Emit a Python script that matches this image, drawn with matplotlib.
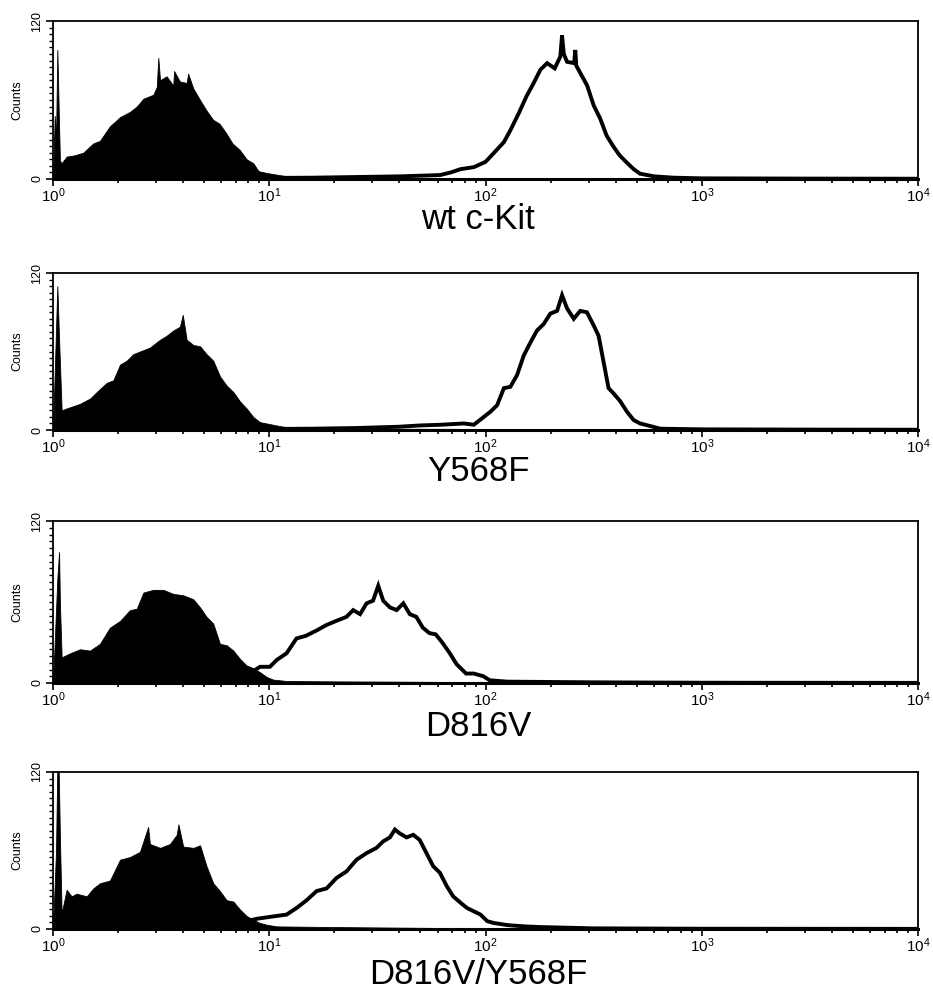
import numpy as np
import matplotlib
matplotlib.use("Agg")
import matplotlib.pyplot as plt
from matplotlib.ticker import LogLocator, FixedLocator, MultipleLocator

plt.rcParams['font.family'] = ['Liberation Sans', 'DejaVu Sans']
plt.rcParams['mathtext.fontset'] = 'custom'
plt.rcParams['mathtext.rm'] = 'Liberation Sans'
plt.rcParams['mathtext.default'] = 'regular'

# positions are log10 of fluorescence, values are counts
labels = ["wt c-Kit", "Y568F", "D816V", "D816V/Y568F"]

# --- wt c-Kit
iso_x_wt = [0.0, 0.008, 0.014, 0.02, 0.026, 0.032, 0.04, 0.063, 0.1, 0.14, 0.186, 0.217, 0.263, 0.31,
            0.356, 0.387, 0.418, 0.464, 0.48, 0.487, 0.495, 0.525, 0.556, 0.56, 0.587, 0.618, 0.625,
            0.648, 0.68, 0.71, 0.74, 0.77, 0.80, 0.83, 0.864, 0.895, 0.926, 0.95, 0.99, 1.065, 1.14,
            1.3, 1.6, 1.9, 2.2, 2.6, 3.0, 4.0]
iso_y_wt = [0, 48, 30, 98, 55, 14, 12, 17, 18, 20, 27, 29, 40, 47, 51, 55, 61, 64, 70, 92, 75, 78, 71,
            82, 74, 73, 80, 69, 60, 52, 45, 42, 35, 27, 22, 15, 12, 6, 4.5, 2.5, 1.5, 1, 0.8, 0.6, 0.4,
            0.3, 0.2, 0]
kit_x_wt = [0.9, 1.0, 1.2, 1.4, 1.6, 1.7, 1.79, 1.84, 1.885, 1.946, 2.0, 2.04, 2.085, 2.115, 2.154,
            2.19, 2.22, 2.254, 2.285, 2.32, 2.346, 2.354, 2.362, 2.377, 2.41, 2.415, 2.42, 2.44, 2.47,
            2.5, 2.53, 2.56, 2.59, 2.62, 2.65, 2.685, 2.715, 2.78, 2.87, 3.0, 3.5, 4.0]
kit_y_wt = [0.5, 0.8, 1.0, 1.5, 2.0, 2.5, 3, 5, 7.5, 9, 13, 20, 28, 37, 50, 63, 72, 83, 88, 84, 93,
            109, 95, 89, 88, 98, 86, 80, 71, 56, 46, 33, 25, 18, 13, 7.5, 4, 2, 1, 0.5, 0.3, 0.2]

# --- Y568F
iso_x_y568f = [0.0, 0.01, 0.02, 0.029, 0.04, 0.063, 0.125, 0.171, 0.202, 0.248, 0.279, 0.31, 0.341,
               0.371, 0.402, 0.448, 0.495, 0.525, 0.556, 0.587, 0.6, 0.618, 0.649, 0.68, 0.71, 0.741,
               0.772, 0.803, 0.834, 0.864, 0.895, 0.926, 0.957, 1.003, 1.065, 1.2, 1.5, 2.0, 2.5,
               3.0, 4.0]
iso_y_y568f = [0, 55, 110, 65, 15, 16.5, 20, 24, 29, 36, 38, 50, 53, 58, 60, 63, 69, 72, 76, 79, 88,
               69, 65, 64, 58, 53, 41, 34, 29, 22, 16.5, 10, 6, 4.5, 2.5, 1.2, 1, 0.8, 0.4, 0.2, 0]
kit_x_y568f = [0.9, 1.0, 1.2, 1.4, 1.6, 1.7, 1.792, 1.9, 1.946, 1.977, 2.023, 2.054, 2.085, 2.115,
               2.146, 2.177, 2.208, 2.238, 2.269, 2.3, 2.331, 2.354, 2.377, 2.408, 2.438, 2.469, 2.5,
               2.523, 2.546, 2.569, 2.592, 2.623, 2.654, 2.685, 2.715, 2.762, 2.808, 3.0, 3.5, 4.0]
kit_y_y568f = [0.5, 0.8, 1.0, 1.5, 2.5, 3.5, 4, 5, 4, 8, 14, 19, 32, 33, 42, 57, 67, 76, 81, 89, 91,
               103, 93, 85, 91, 90, 80, 72, 52, 32, 28, 22, 14, 7.6, 5, 3, 1, 0.5, 0.3, 0.2]

# --- D816V
iso_x_d816v = [0.0, 0.02, 0.028, 0.032, 0.04, 0.079, 0.125, 0.171, 0.217, 0.263, 0.31, 0.356, 0.387,
               0.418, 0.464, 0.51, 0.556, 0.602, 0.649, 0.68, 0.71, 0.741, 0.772, 0.803, 0.834, 0.864,
               0.895, 0.926, 0.957, 0.988, 1.018, 1.08, 1.3, 1.6, 2.0, 2.5, 3.0, 4.0]
iso_y_d816v = [0, 77, 97, 59, 19, 22, 25, 24, 29, 41, 46, 54, 55, 67, 69, 69, 66, 65, 62, 56, 49, 44,
               29, 28, 24, 18, 13, 11, 8, 4.5, 2.5, 1.5, 1.2, 1, 0.6, 0.4, 0.2, 0]
kit_x_d816v = [0.8, 0.9, 0.957, 1.003, 1.034, 1.08, 1.126, 1.17, 1.22, 1.265, 1.31, 1.357, 1.388,
               1.42, 1.45, 1.48, 1.504, 1.527, 1.558, 1.589, 1.62, 1.65, 1.68, 1.71, 1.74, 1.77, 1.8,
               1.835, 1.866, 1.91, 1.946, 1.99, 2.02, 2.1, 2.5, 3.0, 4.0]
kit_y_d816v = [2, 6, 12, 12, 17, 22, 33, 35, 39, 43, 46, 49, 54, 51, 59, 61, 72, 61, 56, 54, 59, 51,
               49, 41, 37, 36, 30, 22, 14, 7, 7, 5, 2, 1, 0.5, 0.2, 0.1]

# --- D816V/Y568F
iso_x_dy = [0.0, 0.014, 0.02, 0.026, 0.032, 0.04, 0.063, 0.086, 0.109, 0.156, 0.186, 0.217, 0.263,
            0.31, 0.356, 0.402, 0.44, 0.448, 0.495, 0.541, 0.572, 0.58, 0.602, 0.649, 0.68, 0.71,
            0.741, 0.772, 0.803, 0.834, 0.864, 0.895, 0.926, 0.957, 0.988, 1.034, 1.3, 1.5, 2.0,
            2.5, 3.0, 4.0]
iso_y_dy = [0, 60, 125, 125, 70, 12, 30, 25, 27, 25, 31, 35, 37, 53, 55, 59, 78, 65, 62, 65, 72, 80,
            63, 62, 64, 48, 35, 29, 22, 21, 15, 10, 7, 4.6, 3.3, 2, 1.5, 1.2, 0.5, 0.3, 0.2, 0]
kit_x_dy = [0.8, 0.95, 1.018, 1.08, 1.126, 1.173, 1.219, 1.265, 1.311, 1.357, 1.404, 1.45, 1.496,
            1.527, 1.558, 1.581, 1.604, 1.635, 1.666, 1.696, 1.727, 1.758, 1.789, 1.82, 1.85, 1.885,
            1.915, 1.946, 1.977, 2.008, 2.038, 2.1, 2.18, 2.25, 2.5, 3.0, 4.0]
kit_y_dy = [3, 8, 9.6, 11, 16, 22, 29, 31, 39, 44, 53, 58, 62, 67, 70, 76, 73, 70, 72, 68, 58, 48, 43,
            33, 25, 20, 16, 13.5, 11, 6, 4.6, 3, 2, 1.5, 0.5, 0.2, 0.1]

panels = [
    (iso_x_wt, iso_y_wt, kit_x_wt, kit_y_wt),
    (iso_x_y568f, iso_y_y568f, kit_x_y568f, kit_y_y568f),
    (iso_x_d816v, iso_y_d816v, kit_x_d816v, kit_y_d816v),
    (iso_x_dy, iso_y_dy, kit_x_dy, kit_y_dy),
]

W, H = 933, 1001
fig = plt.figure(figsize=(W / 100, H / 100), dpi=100)

# axes boxes in pixels: (top, bottom), and baseline of the sample name
boxes = [(21, 179), (273, 430), (521, 683), (772, 929)]
label_base = [229, 481, 736, 984]
left, right = 53, 918

for i, (ix, iy, kx, ky) in enumerate(panels):
    top, bot = boxes[i]
    ax = fig.add_axes([left / W, 1 - bot / H, (right - left) / W, (bot - top) / H])
    ax.set_xscale('log')
    ax.set_xlim(1, 1e4)
    ax.set_ylim(0, 120)

    ax.fill_between(10 ** np.array(ix), 0, iy, color='black', linewidth=0.6, edgecolor='black')
    ax.plot(10 ** np.array(kx), ky, color='black', lw=2.8, solid_joinstyle='miter')

    ax.xaxis.set_major_locator(LogLocator(base=10, numticks=10))
    ax.xaxis.set_minor_locator(LogLocator(base=10, subs=np.arange(2, 10), numticks=20))
    ax.yaxis.set_major_locator(FixedLocator([0, 120]))
    ax.yaxis.set_minor_locator(MultipleLocator(5))
    ax.tick_params(axis='x', which='major', direction='out', length=5, width=1.2, labelsize=11, pad=0)
    ax.tick_params(axis='x', which='minor', direction='out', length=3, width=1.2)
    ax.tick_params(axis='y', which='major', direction='out', length=5, width=1.2, labelsize=9, pad=2)
    ax.tick_params(axis='y', which='minor', direction='out', length=3, width=1.0)
    for t in ax.get_yticklabels():
        t.set_rotation(90)
        t.set_va('center')
    ax.set_ylabel("Counts", fontsize=9, labelpad=6)

    for s in ['top', 'left', 'right']:
        ax.spines[s].set_linewidth(1.3)
    ax.spines['bottom'].set_linewidth(2.2)

    fig.text(478 / W, 1 - label_base[i] / H, labels[i], fontsize=25, ha='center', va='baseline')

fig.savefig("out.png", dpi=100)
